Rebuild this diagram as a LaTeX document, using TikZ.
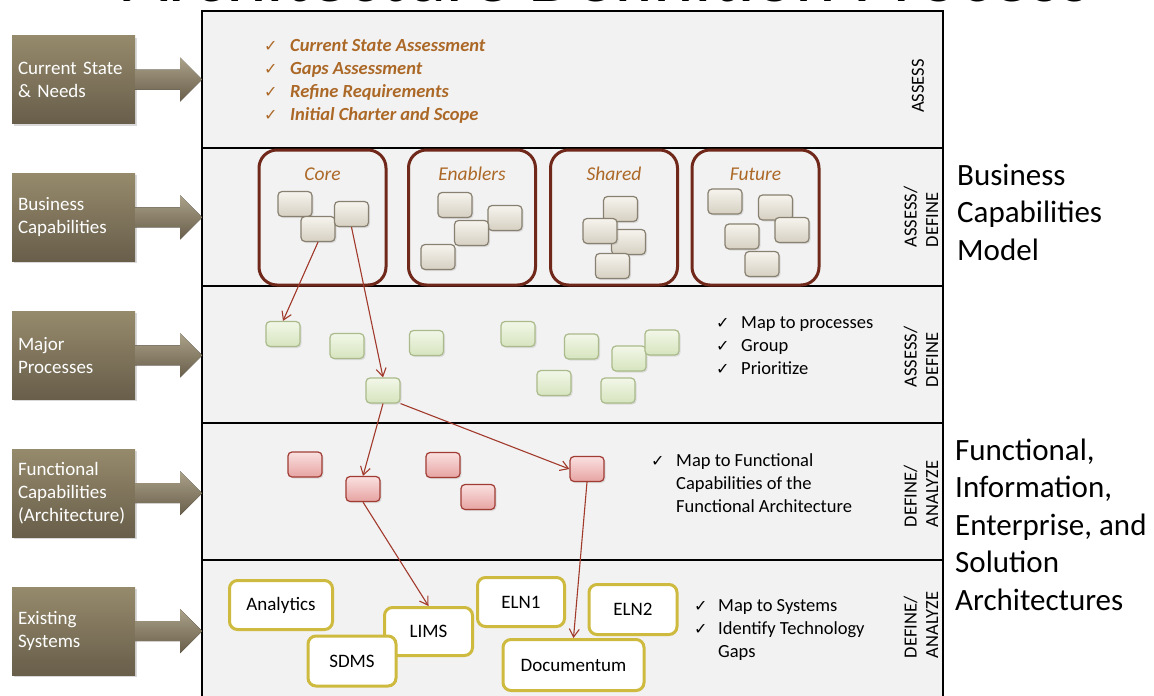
\documentclass[tikz,border=0pt]{standalone}
\usepackage{fontspec}
\setmainfont{Carlito}
\newfontfamily\symfont{DejaVu Sans}
\usetikzlibrary{positioning, shadows, arrows.meta}
\definecolor{PanelGray}{RGB}{242,242,242}
\definecolor{StepTop}{RGB}{150,138,108}
\definecolor{StepBottom}{RGB}{104,94,74}
\definecolor{RustText}{RGB}{172,104,38}
\definecolor{GroupRed}{RGB}{112,40,26}
\definecolor{LinkRed}{RGB}{162,58,44}
\definecolor{CapTop}{RGB}{246,244,238}
\definecolor{CapBottom}{RGB}{214,208,194}
\definecolor{CapEdge}{RGB}{136,128,112}
\definecolor{ProcTop}{RGB}{242,247,232}
\definecolor{ProcBottom}{RGB}{214,228,190}
\definecolor{ProcEdge}{RGB}{170,186,138}
\definecolor{FuncTop}{RGB}{250,224,224}
\definecolor{FuncBottom}{RGB}{230,164,162}
\definecolor{FuncEdge}{RGB}{160,60,52}
\definecolor{SysGold}{RGB}{206,186,62}
\newcommand{\fsz}[2]{\fontsize{#1}{#2}\selectfont}
\newcommand{\chk}[1]{\makebox[#1][l]{\symfont\fsz{16}{16}✓}}

\begin{document}
\begin{tikzpicture}[x=1pt, y=-1pt, font=\fsz{19}{23},
    sidebox/.style={rectangle, minimum height=88pt, text width=111pt, inner xsep=6pt,
      inner ysep=0pt, align=left, top color=StepTop, bottom color=StepBottom, text=white,
      drop shadow={opacity=0.3, shadow xshift=2pt, shadow yshift=-2pt}},
    stepflow/.style={top color=StepTop!80!white, bottom color=StepBottom},
    groupbox/.style={draw=GroupRed, line width=3pt, rounded corners=18pt,
      minimum width=127pt, minimum height=135pt},
    grouplabel/.style={text=RustText, font=\fsz{19.5}{23}\itshape, inner sep=0pt, anchor=base},
    capbox/.style={draw=CapEdge, line width=1.2pt, rounded corners=4pt, minimum width=34pt,
      minimum height=25pt, top color=CapTop, bottom color=CapBottom,
      drop shadow={opacity=0.2, shadow xshift=1.5pt, shadow yshift=-1.5pt}},
    procbox/.style={capbox, draw=ProcEdge, top color=ProcTop, bottom color=ProcBottom},
    funcbox/.style={capbox, draw=FuncEdge, top color=FuncTop, bottom color=FuncBottom},
    sysbox/.style={draw=SysGold, line width=3pt, fill=white, rounded corners=8pt, inner sep=0pt},
    link/.style={draw=LinkRed, line width=1.1pt, -{Straight Barb[length=8pt, width=10pt]}},
    phase/.style={rotate=90, font=\fsz{18.5}{21.5}, align=left, inner sep=0pt},
    notes/.style={anchor=base west, inner sep=0pt, font=\fsz{18.5}{23.2}}]
  \useasboundingbox (0,0) rectangle (1154,696);
  \clip (0,0) rectangle (1154,696);

  % Title
  \node[font=\fsz{77}{80}, anchor=base, inner sep=0pt] (title) at (607,1.5) {Architecture Definition Process};

  % Panel and rows
  \filldraw[fill=PanelGray, draw=black, line width=1.5pt] (202,11) rectangle (943,710);
  \foreach \y in {148,286,423,560}
    \draw[line width=1.5pt] (202,\y) -- (943,\y);

  % Steps on the left
  \node[sidebox] (cs) at (73.5,79.5) {Current State\\\& Needs};
  \node[sidebox, below=49.5pt of cs] (bc) {Business\\Capabilities};
  \node[sidebox, below=49.5pt of bc] (mp) {Major\\Processes};
  \node[sidebox, below=49.5pt of mp] (fc) {Functional\\Capabilities\\(Architecture)};
  \node[sidebox, below=49.5pt of fc] (es) {Existing\\Systems};
  \foreach \n in {cs,bc,mp,fc,es}
    \fill[stepflow] (\n.east) ++(0,-10) -- ++(45,0) -- ++(0,-12) -- ++(22,22)
      -- ++(-22,22) -- ++(0,-12) -- ++(-45,0) -- cycle;

  % Phase labels
  \node[phase] (ph1) at (918,86) {ASSESS};
  \node[phase] (ph2) at (921,217) {ASSESS/\\DEFINE};
  \node[phase] (ph3) at (921,357) {ASSESS/\\DEFINE};
  \node[phase] (ph4) at (921,494) {DEFINE/\\ANALYZE};
  \node[phase] (ph5) at (921,625) {DEFINE/\\ANALYZE};

  % Assess row
  \node[notes, text=RustText, font=\fsz{18.5}{23.3}\bfseries\itshape] (assess) at (264,51)
    {\begin{tabular}[t]{@{}l@{}}
      \chk{26pt}Current State Assessment\\
      \chk{26pt}Gaps Assessment\\
      \chk{26pt}Refine Requirements\\
      \chk{26pt}Initial Charter and Scope
    \end{tabular}};

  % Capability groups
  \node[groupbox] (core) at (322.5,217.5) {};
  \node[groupbox] (enab) at (472,217.5) {};
  \node[groupbox] (shar) at (614,217.5) {};
  \node[groupbox] (futu) at (755.5,217.5) {};
  \node[grouplabel] (corelab) at ([yshift=-32pt]core.north) {Core};
  \node[grouplabel] (enablab) at ([yshift=-32pt]enab.north) {Enablers};
  \node[grouplabel] (sharlab) at ([yshift=-32pt]shar.north) {Shared};
  \node[grouplabel] (futulab) at ([yshift=-32pt]futu.north) {Future};
  \foreach \n/\x/\y in {c1/295/204, c2/318/229, c3/351.5/214,
      e1/455/205, e2/505/218, e3/471.5/233, e4/438/257,
      s1/620.5/209, s3/628.5/242, s2/600/231, s4/612.5/266,
      f1/725/201.5, f2/775.5/207.5, f3/792/230, f4/742/236.5, f5/762/264}
    \node[capbox] (\n) at (\x,\y) {};

  % Processes
  \foreach \n/\x/\y in {p1/283/334, p2/347/346, p3/426.5/343, p4/518/334, p5/581.5/346.5,
      p6/629/358.5, p7/662/342.5, p8/554/383, p9/618/390.5, p10/383/390.5}
    \node[procbox] (\n) at (\x,\y) {};
  \node[notes] (mapproc) at (716,328)
    {\begin{tabular}[t]{@{}l@{}}
      \chk{25pt}Map to processes\\
      \chk{25pt}Group\\
      \chk{25pt}Prioritize
    \end{tabular}};

  % Functional capabilities
  \foreach \n/\x/\y in {r1/305/464.5, r2/363/489, r3/443/465, r4/478/497, r5/587/469}
    \node[funcbox] (\n) at (\x,\y) {};
  \node[notes] (mapfunc) at (651,466)
    {\begin{tabular}[t]{@{}l@{}}
      \chk{25pt}Map to Functional\\
      \makebox[25pt]{}Capabilities of the\\
      \makebox[25pt]{}Functional Architecture
    \end{tabular}};

  % Existing systems
  \node[sysbox, minimum width=103pt, minimum height=49pt] (analytics) at (281,605) {Analytics};
  \node[sysbox, minimum width=88pt, minimum height=48pt] (lims) at (428.5,631.5) {LIMS};
  \node[sysbox, minimum width=88pt, minimum height=50pt] (sdms) at (352,661) {SDMS};
  \node[sysbox, minimum width=87pt, minimum height=49pt] (eln1) at (521,602) {ELN1};
  \node[sysbox, minimum width=88pt, minimum height=50pt] (eln2) at (633,609.5) {ELN2};
  \node[sysbox, minimum width=141pt, minimum height=51pt] (docu) at (573.5,665) {Documentum};
  \node[notes] (mapsys) at (694,611)
    {\begin{tabular}[t]{@{}l@{}}
      \chk{24pt}Map to Systems\\
      \chk{24pt}Identify Technology\\
      \makebox[24pt]{}Gaps
    \end{tabular}};

  % Links
  \draw[link] (c2.south) -- (p1.north);
  \draw[link] (c3.south) -- (p10.north);
  \draw[link] (p10.south) -- (r2.north);
  \draw[link] (p10.south east) -- (r5.west);
  \draw[link] (r2.south) -- (lims.north);
  \draw[link] (r5.south) -- (docu.north);

  % Architecture notes on the right
  \node[notes, font=\fsz{31}{37.7}] (bcm) at (957,185)
    {\begin{tabular}[t]{@{}l@{}}Business\\Capabilities\\Model\end{tabular}};
  \node[notes, font=\fsz{31}{37.5}] (arch) at (955,460)
    {\begin{tabular}[t]{@{}l@{}}Functional,\\Information,\\Enterprise, and\\Solution\\Architectures\end{tabular}};
\end{tikzpicture}
\end{document}
